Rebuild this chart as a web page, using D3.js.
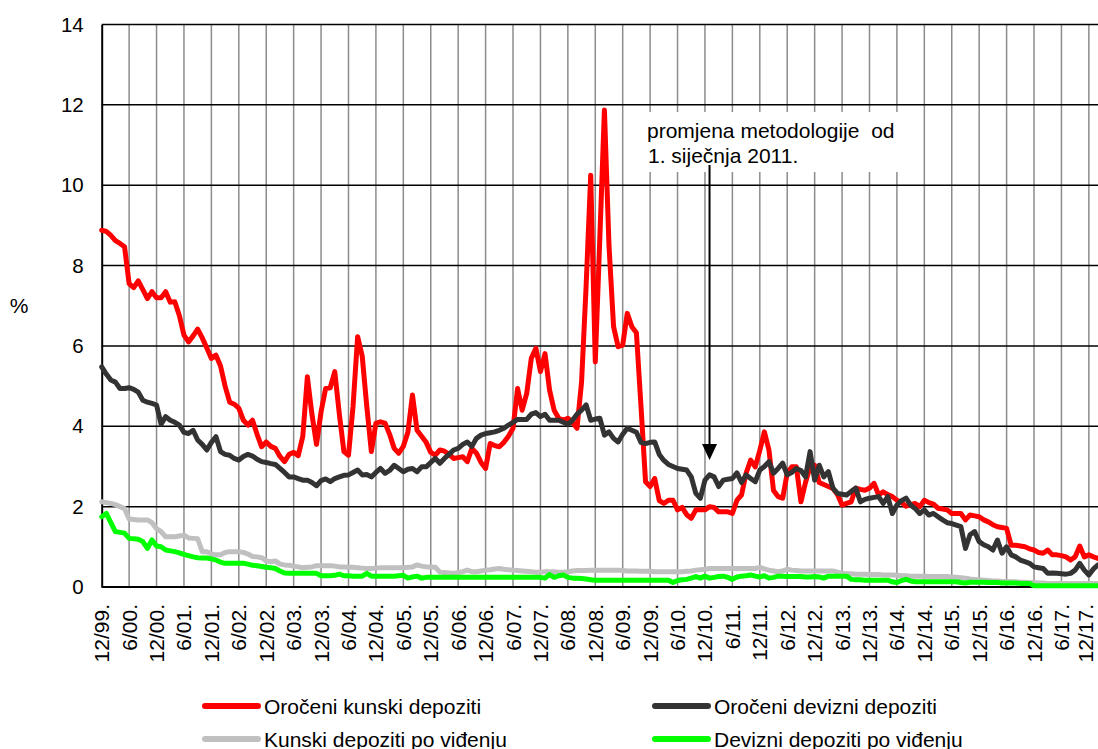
<!DOCTYPE html>
<html>
<head>
<meta charset="utf-8">
<script src="https://cdn.jsdelivr.net/npm/d3@7"></script>
<style>
  body { margin: 0; background: #fff; }
  text { font-family: "Liberation Sans", Arial, sans-serif; fill: #000; }
</style>
</head>
<body>
<div id="chart"></div>
<script>
// monthly values, 12/99 .. 2/18 (one row per year)
const orocKunski = [8.88,
  8.85, 8.75, 8.62, 8.55, 8.47, 7.55, 7.45, 7.62, 7.4, 7.18, 7.35, 7.2,
  7.2, 7.35, 7.09, 7.1, 6.75, 6.27, 6.1, 6.25, 6.42, 6.2, 5.95, 5.69,
  5.77, 5.5, 5.0, 4.6, 4.55, 4.45, 4.15, 4.03, 4.15, 3.8, 3.49, 3.61,
  3.5, 3.45, 3.25, 3.12, 3.3, 3.35, 3.27, 3.75, 5.23, 4.3, 3.55, 4.36,
  4.94, 4.96, 5.36, 4.3, 3.37, 3.28, 4.5, 6.23, 5.75, 4.5, 3.37, 4.08,
  4.11, 4.08, 3.8, 3.45, 3.33, 3.5, 3.85, 4.78, 3.9, 3.75, 3.6, 3.35,
  3.28, 3.41, 3.38, 3.3, 3.2, 3.22, 3.24, 3.12, 3.45, 3.33, 3.1, 2.95,
  3.57, 3.52, 3.49, 3.6, 3.75, 3.95, 4.94, 4.4, 4.82, 5.69, 5.94, 5.36,
  5.81, 4.9, 4.4, 4.2, 4.15, 4.2, 4.1, 3.95, 5.1, 7.5, 10.25, 5.6,
  8.7, 11.87, 8.5, 6.48, 5.98, 6.02, 6.81, 6.48, 6.33, 4.5, 2.62, 2.5,
  2.7, 2.15, 2.08, 2.16, 2.16, 1.92, 1.98, 1.8, 1.71, 1.92, 1.92, 1.92,
  2.0, 1.98, 1.87, 1.87, 1.87, 1.83, 2.16, 2.29, 2.83, 3.16, 2.99, 3.4,
  3.86, 3.41, 2.4, 2.25, 2.21, 2.83, 2.99, 2.99, 2.12, 2.6, 2.99, 3.03,
  2.6, 2.55, 2.5, 2.45, 2.3, 2.04, 2.08, 2.12, 2.46, 2.43, 2.41, 2.46,
  2.58, 2.29, 2.37, 2.3, 2.25, 2.16, 2.1, 2.01, 2.05, 2.08, 2.0, 2.16,
  2.1, 2.06, 1.96, 1.94, 1.92, 1.83, 1.83, 1.83, 1.67, 1.79, 1.77, 1.75,
  1.67, 1.62, 1.55, 1.5, 1.48, 1.46, 1.04, 1.04, 1.02, 1.0, 0.95, 0.92,
  0.86, 0.84, 0.92, 0.8, 0.8, 0.78, 0.75, 0.67, 0.75, 1.02, 0.75, 0.8,
  0.75, 0.71];

const orocDevizni = [5.48,
  5.3, 5.15, 5.1, 4.94, 4.94, 4.96, 4.92, 4.85, 4.65, 4.6, 4.57, 4.53,
  4.05, 4.24, 4.15, 4.1, 4.03, 3.85, 3.82, 3.9, 3.66, 3.55, 3.41, 3.6,
  3.74, 3.37, 3.3, 3.28, 3.2, 3.16, 3.25, 3.3, 3.26, 3.18, 3.12, 3.1,
  3.07, 3.05, 2.95, 2.85, 2.74, 2.74, 2.7, 2.66, 2.66, 2.6, 2.52, 2.65,
  2.69, 2.62, 2.7, 2.74, 2.78, 2.79, 2.85, 2.91, 2.79, 2.8, 2.74, 2.85,
  2.95, 2.83, 2.9, 3.03, 2.95, 2.87, 2.93, 2.95, 2.87, 2.99, 2.99, 3.1,
  3.2, 3.08, 3.2, 3.3, 3.41, 3.45, 3.55, 3.61, 3.5, 3.7, 3.78, 3.82,
  3.84, 3.86, 3.9, 3.95, 4.03, 4.1, 4.17, 4.17, 4.17, 4.3, 4.34, 4.24,
  4.3, 4.15, 4.15, 4.15, 4.1, 4.05, 4.15, 4.3, 4.4, 4.53, 4.15, 4.18,
  4.2, 3.78, 3.86, 3.7, 3.61, 3.8, 3.95, 3.9, 3.85, 3.6, 3.57, 3.6,
  3.61, 3.3, 3.15, 3.05, 3.0, 2.95, 2.93, 2.91, 2.74, 2.33, 2.21, 2.66,
  2.79, 2.74, 2.5, 2.66, 2.68, 2.7, 2.84, 2.6, 2.79, 2.7, 2.62, 2.91,
  3.0, 3.12, 2.83, 2.95, 3.08, 2.79, 2.85, 2.95, 2.9, 2.74, 3.37, 2.66,
  3.03, 2.74, 2.87, 2.46, 2.33, 2.31, 2.29, 2.38, 2.46, 2.12, 2.18, 2.21,
  2.23, 2.25, 2.08, 2.25, 1.83, 2.04, 2.15, 2.21, 2.04, 1.95, 1.83, 1.92,
  1.79, 1.83, 1.75, 1.67, 1.6, 1.58, 1.54, 1.5, 0.96, 1.3, 1.38, 1.13,
  1.05, 1.0, 0.92, 1.17, 0.84, 1.0, 0.8, 0.75, 0.67, 0.63, 0.59, 0.5,
  0.48, 0.46, 0.34, 0.35, 0.34, 0.33, 0.32, 0.34, 0.42, 0.59, 0.42, 0.3,
  0.45, 0.55];

const kunskiVidjenje = [2.12,
  2.1, 2.08, 2.05, 2.0, 1.95, 1.69, 1.68, 1.67, 1.67, 1.67, 1.6, 1.45,
  1.38, 1.25, 1.25, 1.25, 1.27, 1.29, 1.22, 1.21, 1.2, 0.88, 0.88, 0.82,
  0.8, 0.8, 0.86, 0.88, 0.88, 0.88, 0.86, 0.82, 0.76, 0.75, 0.73, 0.65,
  0.63, 0.65, 0.57, 0.55, 0.54, 0.52, 0.5, 0.48, 0.49, 0.5, 0.53, 0.53,
  0.53, 0.53, 0.52, 0.5, 0.5, 0.49, 0.49, 0.48, 0.47, 0.46, 0.46, 0.47,
  0.48, 0.48, 0.48, 0.48, 0.48, 0.48, 0.49, 0.5, 0.55, 0.52, 0.5, 0.5,
  0.49, 0.37, 0.36, 0.35, 0.34, 0.36, 0.38, 0.42, 0.38, 0.38, 0.4, 0.42,
  0.43, 0.45, 0.46, 0.44, 0.43, 0.42, 0.41, 0.4, 0.39, 0.38, 0.37, 0.37,
  0.38, 0.38, 0.38, 0.37, 0.37, 0.38, 0.4, 0.41, 0.41, 0.41, 0.42, 0.42,
  0.42, 0.42, 0.42, 0.42, 0.42, 0.41, 0.4, 0.4, 0.4, 0.39, 0.39, 0.39,
  0.38, 0.38, 0.38, 0.38, 0.38, 0.38, 0.38, 0.39, 0.4, 0.42, 0.43, 0.44,
  0.46, 0.46, 0.46, 0.46, 0.46, 0.46, 0.46, 0.46, 0.46, 0.46, 0.46, 0.49,
  0.45, 0.42, 0.4, 0.38, 0.4, 0.44, 0.42, 0.41, 0.4, 0.4, 0.4, 0.4,
  0.4, 0.4, 0.4, 0.4, 0.37, 0.34, 0.33, 0.33, 0.32, 0.32, 0.32, 0.31,
  0.31, 0.31, 0.3, 0.3, 0.3, 0.29, 0.28, 0.28, 0.27, 0.27, 0.27, 0.27,
  0.26, 0.26, 0.26, 0.26, 0.26, 0.25, 0.24, 0.23, 0.22, 0.2, 0.19, 0.18,
  0.17, 0.16, 0.15, 0.15, 0.14, 0.14, 0.13, 0.13, 0.12, 0.12, 0.11, 0.11,
  0.1, 0.1, 0.09, 0.09, 0.09, 0.09, 0.09, 0.09, 0.09, 0.09, 0.09, 0.09,
  0.09, 0.09];

const devizniVidjenje = [1.75,
  1.83, 1.6, 1.38, 1.36, 1.34, 1.21, 1.2, 1.19, 1.13, 0.96, 1.17, 1.02,
  1.0, 0.92, 0.9, 0.88, 0.85, 0.81, 0.78, 0.75, 0.73, 0.72, 0.72, 0.7,
  0.67, 0.62, 0.59, 0.59, 0.59, 0.59, 0.59, 0.57, 0.54, 0.53, 0.51, 0.49,
  0.48, 0.46, 0.4, 0.35, 0.34, 0.34, 0.34, 0.34, 0.34, 0.34, 0.34, 0.28,
  0.28, 0.28, 0.29, 0.32, 0.28, 0.28, 0.27, 0.27, 0.27, 0.34, 0.27, 0.27,
  0.27, 0.27, 0.27, 0.27, 0.28, 0.29, 0.22, 0.25, 0.27, 0.22, 0.24, 0.24,
  0.24, 0.24, 0.24, 0.24, 0.24, 0.24, 0.24, 0.24, 0.24, 0.24, 0.24, 0.24,
  0.24, 0.24, 0.24, 0.24, 0.24, 0.24, 0.24, 0.24, 0.24, 0.24, 0.24, 0.24,
  0.22, 0.31, 0.24, 0.28, 0.3, 0.24, 0.22, 0.22, 0.21, 0.2, 0.18, 0.17,
  0.17, 0.17, 0.17, 0.17, 0.17, 0.17, 0.17, 0.17, 0.17, 0.17, 0.17, 0.17,
  0.17, 0.17, 0.17, 0.17, 0.11, 0.16, 0.18, 0.19, 0.22, 0.26, 0.22, 0.27,
  0.22, 0.24, 0.26, 0.27, 0.24, 0.19, 0.25, 0.27, 0.28, 0.3, 0.27, 0.25,
  0.28, 0.22, 0.24, 0.27, 0.27, 0.26, 0.26, 0.26, 0.26, 0.25, 0.25, 0.26,
  0.25, 0.22, 0.27, 0.27, 0.27, 0.27, 0.27, 0.19, 0.18, 0.18, 0.17, 0.17,
  0.17, 0.17, 0.17, 0.17, 0.13, 0.11, 0.16, 0.19, 0.15, 0.13, 0.13, 0.13,
  0.13, 0.13, 0.13, 0.13, 0.13, 0.13, 0.13, 0.11, 0.1, 0.12, 0.12, 0.12,
  0.12, 0.11, 0.11, 0.11, 0.1, 0.1, 0.1, 0.1, 0.09, 0.09, 0.09, 0.03,
  0.03, 0.03, 0.03, 0.03, 0.03, 0.03, 0.03, 0.03, 0.03, 0.03, 0.03, 0.03,
  0.03, 0.03];

const tickLabels = ["12/99.", "6/00.", "12/00.", "6/01.", "12/01.", "6/02.", "12/02.",
  "6/03.", "12/03.", "6/04.", "12/04.", "6/05.", "12/05.", "6/06.", "12/06.",
  "6/07.", "12/07.", "6/08.", "12/08.", "6/09.", "12/09.", "6/10.", "12/10.",
  "6/11.", "12/11.", "6/12.", "12/12.", "6/13.", "12/13.", "6/14.", "12/14.",
  "6/15.", "12/15.", "6/16.", "12/16.", "6/17.", "12/17."];
const yTicks = [0, 2, 4, 6, 8, 10, 12, 14];

const seriesNames = ["Oročeni kunski depoziti", "Oročeni devizni depoziti",
  "Kunski depoziti po viđenju", "Devizni depoziti po viđenju"];
const seriesColors = ["#ff0000", "#333333", "#c0c0c0", "#00ff00"];

const series = [orocKunski, orocDevizni, kunskiVidjenje, devizniVidjenje]
  .map((values, k) => ({ name: seriesNames[k], color: seriesColors[k], values }));

const width = 1098, height = 749;
const font = '"Liberation Sans", Arial, sans-serif';

const svg = d3.select("#chart")
  .append("svg")
    .attr("width", width)
    .attr("height", height);

// month index 0 = 12/99
const x = d3.scaleLinear()
  .domain([0, orocKunski.length - 1])
  .range([101.7, 1098]);

const y = d3.scaleLinear()
  .domain([0, 14])
  .range([587, 24.5]);

// vertical gridlines every 6 months
const tickIdx = tickLabels.map((d, i) => i * 6);
svg.selectAll("vgrid")
  .data(tickIdx.slice(1))
  .enter()
  .append("line")
    .attr("x1", d => x(d)).attr("x2", d => x(d))
    .attr("y1", y(0)).attr("y2", y(14))
    .attr("stroke", "#8c8c8c")
    .attr("stroke-width", 1.5);

// horizontal gridlines
svg.selectAll("hgrid")
  .data(yTicks.slice(1))
  .enter()
  .append("line")
    .attr("x1", x(0)).attr("x2", width)
    .attr("y1", d => y(d)).attr("y2", d => y(d))
    .attr("stroke", "#000")
    .attr("stroke-width", 1.5);

// y axis
const yAxis = svg.append("g")
  .attr("transform", `translate(${x(0)},0)`)
  .call(d3.axisLeft(y).tickValues(yTicks).tickSize(0).tickPadding(18));
yAxis.select(".domain").attr("stroke", "#000").attr("stroke-width", 2);
yAxis.selectAll("text")
  .style("font-size", "20.5px")
  .style("font-family", font);

// x axis
const xAxis = svg.append("g")
  .attr("transform", `translate(0,${y(0)})`)
  .call(d3.axisBottom(x)
    .tickValues(tickIdx)
    .tickFormat((d, i) => tickLabels[i])
    .tickSize(0));
xAxis.select(".domain")
  .attr("d", `M${x(0)},0H${width}`)
  .attr("stroke", "#000").attr("stroke-width", 2);
// last label sits at the right edge: keep it inside
xAxis.selectAll("text")
  .attr("transform", d => `translate(${Math.min(7, 1092 - x(d))},17) rotate(-90)`)
  .attr("x", 0).attr("y", 0).attr("dy", 0)
  .attr("text-anchor", "end")
  .style("font-size", "21px")
  .style("font-family", font);

svg.append("text")
  .attr("x", 19)
  .attr("y", 313)
  .attr("text-anchor", "middle")
  .style("font-size", "21px")
  .text("%");

// annotation box
svg.append("rect")
  .attr("x", 642).attr("y", 112)
  .attr("width", 258).attr("height", 60)
  .attr("fill", "#fff");

svg.append("text")
  .attr("x", 647).attr("y", 138)
  .style("font-size", "21px")
  .style("white-space", "pre")
  .text("promjena metodologije  od");
svg.append("text")
  .attr("x", 648).attr("y", 163)
  .style("font-size", "21px")
  .text("1. siječnja 2011.");

// lines
const line = d3.line()
  .x((d, i) => x(i))
  .y(d => y(d));

svg.selectAll("series")
  .data(series)
  .enter()
  .append("path")
    .attr("d", d => line(d.values))
    .attr("fill", "none")
    .attr("stroke", d => d.color)
    .attr("stroke-width", 5)
    .attr("stroke-linejoin", "round")
    .attr("stroke-linecap", "round");

// arrow to 1/11
const ax = x(133);
svg.append("line")
  .attr("x1", ax).attr("x2", ax)
  .attr("y1", 165).attr("y2", 446)
  .attr("stroke", "#000")
  .attr("stroke-width", 2);
svg.append("path")
  .attr("d", `M${ax - 7.5},444L${ax + 7.5},444L${ax},460Z`)
  .attr("fill", "#000");

// legend
const legendPos = [
  { lx: 205, tx: 264, y: 706 },
  { lx: 655, tx: 714, y: 706 },
  { lx: 205, tx: 264, y: 739 },
  { lx: 655, tx: 714, y: 739 }
];

const legend = svg.selectAll("legend")
  .data(series)
  .enter()
  .append("g");

legend.append("line")
  .attr("x1", (d, i) => legendPos[i].lx)
  .attr("x2", (d, i) => legendPos[i].lx + 53)
  .attr("y1", (d, i) => legendPos[i].y)
  .attr("y2", (d, i) => legendPos[i].y)
  .attr("stroke", d => d.color)
  .attr("stroke-width", 6)
  .attr("stroke-linecap", "round");

legend.append("text")
  .attr("x", (d, i) => legendPos[i].tx)
  .attr("y", (d, i) => legendPos[i].y + 7.5)
  .style("font-size", "21px")
  .text(d => d.name);
</script>
</body>
</html>
